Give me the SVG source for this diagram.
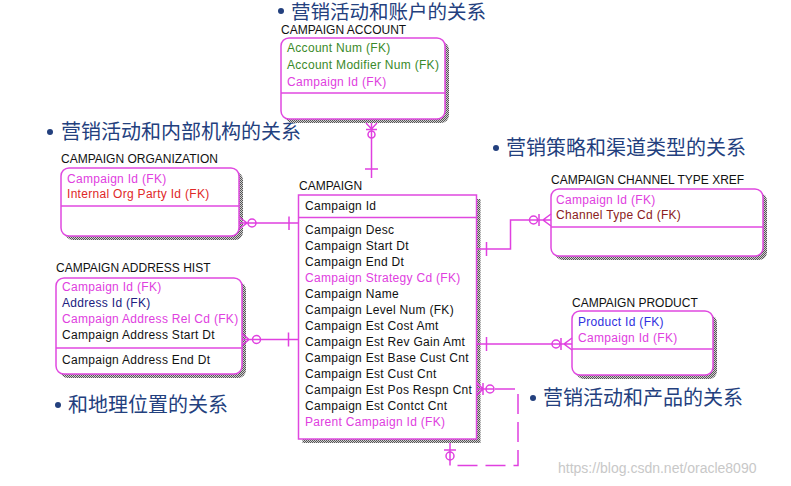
<svg xmlns="http://www.w3.org/2000/svg" width="791" height="486" viewBox="0 0 791 486">
<defs>
<pattern id="chk" width="2" height="2" patternUnits="userSpaceOnUse">
<rect width="2" height="2" fill="#d0d0d0"/>
<rect width="1" height="1" fill="#555"/>
<rect x="1" y="1" width="1" height="1" fill="#555"/>
</pattern>
</defs>
<style>
.cn{font-family:"Noto Sans CJK SC","Noto Sans",sans-serif;font-size:20px;fill:#23407e}
.dot{fill:#23407e}
.ttl{font-family:"Liberation Sans",Arial,sans-serif;font-size:12px;fill:#111}
.row{font-family:"Liberation Sans",Arial,sans-serif;font-size:12px;letter-spacing:0.3px;fill:#111}
.box{fill:#fff;stroke:#e048e0;stroke-width:1.5}
.shd{fill:url(#chk)}
.div{stroke:#e048e0;stroke-width:1.5}
.fk{fill:#e040e0}
.grn{fill:#3a8a2a}
.red{fill:#e02828}
.nav{fill:#202080}
.blu{fill:#3030e0}
.brn{fill:#8b2020}
.ln{fill:none;stroke:#e040e0;stroke-width:1.5}
.dash{stroke-dasharray:20 8}
.wm{font-family:"Liberation Sans",Arial,sans-serif;font-size:14px;fill:#c8c8c8}
</style>
<rect width="791" height="486" fill="#fff"/>

<g id="label-account"><circle class="dot" cx="281" cy="11" r="3"/><text class="cn" x="291" y="18.5" style="font-size:19.5px">营销活动和账户的关系</text></g>
<g id="label-org"><circle class="dot" cx="50" cy="132" r="3"/><text class="cn" x="61" y="139">营销活动和内部机构的关系</text></g>
<g id="label-channel"><circle class="dot" cx="496" cy="148" r="3"/><text class="cn" x="506" y="155">营销策略和渠道类型的关系</text></g>
<g id="label-product"><circle class="dot" cx="533" cy="398" r="3"/><text class="cn" x="543" y="405">营销活动和产品的关系</text></g>
<g id="label-address"><circle class="dot" cx="58" cy="405" r="3"/><text class="cn" x="68" y="412">和地理位置的关系</text></g>

<g id="campaign-account">
<text class="ttl" x="281" y="33.5">CAMPAIGN ACCOUNT</text>
<rect class="shd" x="285" y="42" width="164" height="81" rx="8"/>
<rect class="box" x="281" y="38" width="164" height="81" rx="8"/>
<line class="div" x1="281" y1="93" x2="445" y2="93"/>
<text class="row grn" x="287" y="52">Account Num (FK)</text>
<text class="row grn" x="287" y="69">Account Modifier Num (FK)</text>
<text class="row fk" x="287" y="86">Campaign Id (FK)</text>
</g>

<g id="campaign-organization">
<text class="ttl" x="61" y="163">CAMPAIGN ORGANIZATION</text>
<rect class="shd" x="65" y="172" width="178" height="68" rx="8"/>
<rect class="box" x="61" y="168" width="178" height="68" rx="8"/>
<line class="div" x1="61" y1="206" x2="239" y2="206"/>
<text class="row fk" x="67" y="183">Campaign Id (FK)</text>
<text class="row red" x="67" y="198">Internal Org Party Id (FK)</text>
</g>

<g id="campaign">
<text class="ttl" x="299" y="190">CAMPAIGN</text>
<rect class="shd" x="302.5" y="199" width="178" height="244"/>
<rect class="box" x="298.5" y="195" width="178" height="244"/>
<line class="div" x1="298.5" y1="217.5" x2="476.5" y2="217.5"/>
<text class="row" x="305" y="210">Campaign Id</text>
<text class="row" x="305" y="234">Campaign Desc</text>
<text class="row" x="305" y="250">Campaign Start Dt</text>
<text class="row" x="305" y="266">Campaign End Dt</text>
<text class="row fk" x="305" y="282">Campaign Strategy Cd (FK)</text>
<text class="row" x="305" y="298">Campaign Name</text>
<text class="row" x="305" y="314">Campaign Level Num (FK)</text>
<text class="row" x="305" y="330">Campaign Est Cost Amt</text>
<text class="row" x="305" y="346">Campaign Est Rev Gain Amt</text>
<text class="row" x="305" y="362">Campaign Est Base Cust Cnt</text>
<text class="row" x="305" y="378">Campaign Est Cust Cnt</text>
<text class="row" x="305" y="394">Campaign Est Pos Respn Cnt</text>
<text class="row" x="305" y="410">Campaign Est Contct Cnt</text>
<text class="row fk" x="305" y="426">Parent Campaign Id (FK)</text>
</g>

<g id="campaign-address-hist">
<text class="ttl" x="56" y="272">CAMPAIGN ADDRESS HIST</text>
<rect class="shd" x="60" y="282" width="186" height="96" rx="8"/>
<rect class="box" x="56" y="278" width="186" height="96" rx="8"/>
<line class="div" x1="56" y1="348" x2="242" y2="348"/>
<text class="row fk" x="62" y="291">Campaign Id (FK)</text>
<text class="row nav" x="62" y="307">Address Id (FK)</text>
<text class="row fk" x="62" y="323">Campaign Address Rel Cd (FK)</text>
<text class="row" x="62" y="339">Campaign Address Start Dt</text>
<text class="row" x="62" y="364">Campaign Address End Dt</text>
</g>

<g id="campaign-channel-type-xref">
<text class="ttl" x="551" y="184">CAMPAIGN CHANNEL TYPE XREF</text>
<rect class="shd" x="555" y="193" width="212" height="67" rx="8"/>
<rect class="box" x="551" y="189" width="212" height="67" rx="8"/>
<line class="div" x1="551" y1="227" x2="763" y2="227"/>
<text class="row fk" x="556" y="204">Campaign Id (FK)</text>
<text class="row brn" x="556" y="219">Channel Type Cd (FK)</text>
</g>

<g id="campaign-product">
<text class="ttl" x="572" y="307">CAMPAIGN PRODUCT</text>
<rect class="shd" x="576" y="315" width="141" height="64" rx="8"/>
<rect class="box" x="572" y="311" width="141" height="64" rx="8"/>
<line class="div" x1="572" y1="349" x2="713" y2="349"/>
<text class="row blu" x="578" y="326">Product Id (FK)</text>
<text class="row fk" x="578" y="342">Campaign Id (FK)</text>
</g>

<g id="connectors">
<path class="ln" d="M371.5,123 V178 M365,169 H378 M366,123 L371.5,129 L377,123 M371.5,123 V129 M366,129.5 H377"/>
<circle class="ln" cx="371.5" cy="134.5" r="3.5" fill="#fff"/>
<path class="ln" d="M239,223 H298.5 M289,216.5 V230 M239,217 L247,223 L239,229"/>
<circle class="ln" cx="252" cy="223" r="4"/>
<path class="ln" d="M242,339.5 H298.5 M288.5,332.5 V346.5 M242,333.5 L249,339.5 L242,345.5"/>
<circle class="ln" cx="256.5" cy="339.5" r="4"/>
<path class="ln" d="M476.5,249 H510.5 V220 H551 M486.5,242 V256 M551,214 L543,220 L551,226 M539,214 V226"/>
<circle class="ln" cx="533.5" cy="220" r="4"/>
<path class="ln" d="M476.5,344 H572 M486.5,337 V351 M572,338 L564,344 L572,350 M561,338 V350"/>
<circle class="ln" cx="556" cy="344" r="4"/>
<path class="ln" d="M476.5,389 H494 M477,383 L483,389 L477,395 M483,383 V395"/>
<circle class="ln" cx="490" cy="389" r="4"/>
<path class="ln dash" d="M495,389 H518 V465.5 H450"/>
<path class="ln" d="M450,443 V465.5 M444,450 H456"/>
<circle class="ln" cx="450" cy="456" r="4"/>
</g>

<text class="wm" x="558" y="473">https://blog.csdn.net/oracle8090</text>
</svg>
